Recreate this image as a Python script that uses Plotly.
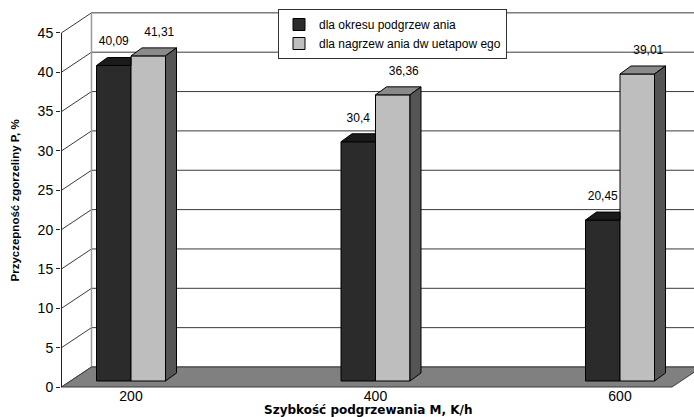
import plotly.graph_objects as go

# ---------------- data ----------------
categories = [200, 400, 600]
category_labels = ["200", "400", "600"]
series_names = ["dla okresu podgrzew ania", "dla nagrzew ania dw uetapow ego"]
preheat_values = [40.09, 30.4, 20.45]
twostage_values = [41.31, 36.36, 39.01]
y_ticks = [0, 5, 10, 15, 20, 25, 30, 35, 40, 45]
y_title = "Przyczepność zgorzeliny P, %"
x_title = "Szybkość podgrzewania M, K/h"

# ---------------- geometry (pixel scale of the 3-D look) ----------------
W, H = 694, 417
ML, MR, MT, MB = 61, 0, 0, 29
PX_X = 244.5 / 200.0      # pixels per x unit
PX_Y = 7.87               # pixels per y unit
X0_PX, Y0_PX = 131.0, 387.0   # pixel position of (200, 0)


def xv(px):
    return categories[0] + (px - X0_PX) / PX_X


def ux(px):
    return px / PX_X


def uy(px):
    return px / PX_Y


def paper_x(px):
    return (px - ML) / (W - ML - MR)


def paper_y(px):
    return 1 - (px - MT) / (H - MT - MB)


x_lo, x_hi = xv(ML), xv(W - MR)
y_lo, y_hi = (Y0_PX - (H - MB)) / PX_Y, (Y0_PX - MT) / PX_Y

bar_w = ux(34.5)
bar_base = uy(6)
top_dx, top_dy = ux(11), uy(8)
wall_dx, wall_dy = ux(30), uy(20)
front_x = xv(61.5)
floor_x_end = xv(672)
grid_col = "#3a3a3a"

c_dark, c_dark_top = "#2b2b2b", "#1b1b1b"
c_light, c_light_top, c_light_side = "#bebebe", "#8a8a8a", "#555555"
c_floor = "#808080"

fig = go.Figure()

# ---------------- walls, grid, floor (shapes below data) ----------------
shapes = []
back_x = front_x + wall_dx
for v in y_ticks:
    shapes.append(dict(type="line", xref="x", yref="y", x0=back_x, y0=v + wall_dy,
                       x1=x_hi + 50, y1=v + wall_dy, line=dict(color=grid_col, width=1), layer="below"))
    shapes.append(dict(type="line", xref="x", yref="y", x0=front_x, y0=v,
                       x1=back_x, y1=v + wall_dy, line=dict(color=grid_col, width=1), layer="below"))
shapes.append(dict(type="line", xref="x", yref="y", x0=front_x, y0=0, x1=front_x, y1=y_ticks[-1],
                   line=dict(color="#222222", width=1), layer="below"))
shapes.append(dict(type="line", xref="x", yref="y", x0=back_x, y0=wall_dy, x1=back_x,
                   y1=y_ticks[-1] + wall_dy, line=dict(color="#9a9a9a", width=1.5), layer="below"))
floor_path = (f"M {front_x},0 L {floor_x_end},0 L {floor_x_end + wall_dx},{wall_dy} "
              f"L {back_x},{wall_dy} Z")
shapes.append(dict(type="path", xref="x", yref="y", path=floor_path, fillcolor=c_floor,
                   line=dict(color="#3a3a3a", width=1), layer="below"))

# ---------------- bars (front faces) ----------------
fig.add_trace(go.Bar(name=series_names[0], x=categories, y=preheat_values,
                     base=[bar_base] * len(categories), width=bar_w, offset=-bar_w,
                     marker=dict(color=c_dark, line=dict(color="black", width=1))))
fig.add_trace(go.Bar(name=series_names[1], x=categories, y=twostage_values,
                     base=[bar_base] * len(categories), width=bar_w, offset=0,
                     marker=dict(color=c_light, line=dict(color="black", width=1))))

# ---------------- 3-D faces computed from the values ----------------
for xc, vd, vl in zip(categories, preheat_values, twostage_values):
    # dark bar top (part not hidden by the lighter bar in front of it)
    l, r, t = xc - bar_w, xc, bar_base + vd
    if vl >= vd:
        xs = [l, r, r, l + top_dx, l]
        ys = [t, t, t + top_dy, t + top_dy, t]
    else:
        xs = [l, r, r + top_dx, l + top_dx, l]
        ys = [t, t, t + top_dy, t + top_dy, t]
    fig.add_trace(go.Scatter(x=xs, y=ys, mode="lines", fill="toself", fillcolor=c_dark_top,
                             line=dict(color="black", width=1), showlegend=False, hoverinfo="skip"))
    # light bar top
    l, r, t = xc, xc + bar_w, bar_base + vl
    fig.add_trace(go.Scatter(x=[l, r, r + top_dx, l + top_dx, l], y=[t, t, t + top_dy, t + top_dy, t],
                             mode="lines", fill="toself", fillcolor=c_light_top,
                             line=dict(color="black", width=1), showlegend=False, hoverinfo="skip"))
    # light bar side
    fig.add_trace(go.Scatter(x=[r, r, r + top_dx, r + top_dx, r],
                             y=[bar_base, t, t + top_dy, bar_base + top_dy, bar_base],
                             mode="lines", fill="toself", fillcolor=c_light_side,
                             line=dict(color="black", width=1), showlegend=False, hoverinfo="skip"))

# ---------------- value labels ----------------
def fmt(v):
    return f"{v:g}".replace(".", ",")

label_dy = uy(23)
fig.add_trace(go.Scatter(x=[c - bar_w / 2 for c in categories],
                         y=[bar_base + v + label_dy for v in preheat_values],
                         text=[fmt(v) for v in preheat_values], mode="text",
                         textfont=dict(size=12, color="black", family="Liberation Sans, Arial"),
                         showlegend=False, hoverinfo="skip"))
fig.add_trace(go.Scatter(x=[c + bar_w / 2 + ux(11) for c in categories],
                         y=[bar_base + v + label_dy for v in twostage_values],
                         text=[fmt(v) for v in twostage_values], mode="text",
                         textfont=dict(size=12, color="black", family="Liberation Sans, Arial"),
                         showlegend=False, hoverinfo="skip"))

# ---------------- layout ----------------
fig.update_layout(
    width=W, height=H,
    margin=dict(l=ML, r=MR, t=MT, b=MB, pad=0),
    paper_bgcolor="white", plot_bgcolor="white",
    barmode="overlay",
    font=dict(family="Liberation Sans, Arial", color="black"),
    shapes=shapes,
    showlegend=True,
    legend=dict(x=paper_x(278), y=paper_y(9), xanchor="left", yanchor="top",
                bgcolor="white", bordercolor="#333333", borderwidth=1,
                font=dict(size=12, family="Liberation Sans, Arial", color="black"),
                itemwidth=30, tracegroupgap=0),
    xaxis=dict(range=[x_lo, x_hi], tickvals=categories, ticktext=category_labels,
               showgrid=False, zeroline=False, showline=False, ticks="",
               tickfont=dict(size=14), ticklabelstandoff=-2, fixedrange=True),
    yaxis=dict(range=[y_lo, y_hi], tickvals=y_ticks, ticktext=[str(t) for t in y_ticks],
               showgrid=False, zeroline=False, showline=False, ticks="outside", ticklen=4,
               tickcolor="#222222", tickfont=dict(size=14), fixedrange=True),
    annotations=[
        dict(text=f"<b>{y_title}</b>", xref="paper", yref="paper", x=paper_x(14.5), y=paper_y(201),
             textangle=-90, showarrow=False, font=dict(size=11.5), xanchor="center", yanchor="middle"),
        dict(text=f"<b>{x_title}</b>", xref="paper", yref="paper", x=paper_x(368), y=paper_y(410),
             showarrow=False, font=dict(size=12, family="DejaVu Sans"), xanchor="center",
             yanchor="middle"),
    ],
)

fig.write_html("out.html", config={"displayModeBar": False},
               post_script="document.body.style.margin='0';")
